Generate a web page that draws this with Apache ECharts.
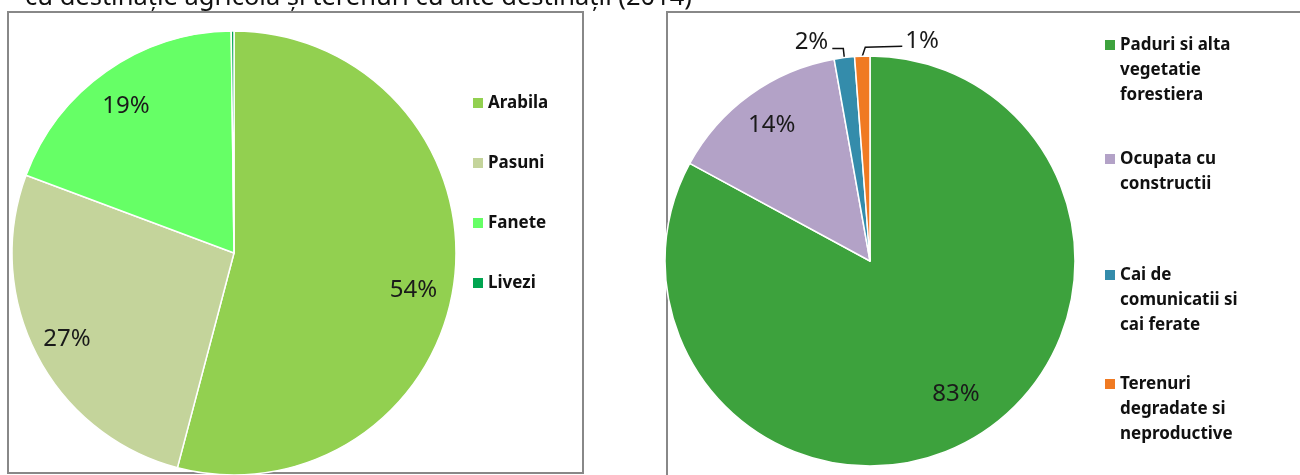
<!DOCTYPE html>
<html>
<head>
<meta charset="utf-8">
<script src="https://cdn.jsdelivr.net/npm/echarts@6/dist/echarts.min.js"></script>
<style>
  html, body { margin: 0; padding: 0; background: #fff; }
  #chart { width: 1300px; height: 475px; }
</style>
</head>
<body>
<div id="chart"></div>
<script>
// terenuri agricole (stanga)
var agriNames = ['Arabila', 'Pasuni', 'Fanete', 'Livezi'];
var agriValues = [54.1, 26.6, 19.1, 0.2];
var agriColors = ['#92D050', '#C4D49B', '#66FF66', '#00A550'];

// terenuri cu alte destinatii (dreapta)
var otherNames = ['Paduri si alta\nvegetatie\nforestiera', 'Ocupata cu\nconstructii', 'Cai de\ncomunicatii si\ncai ferate', 'Terenuri\ndegradate si\nneproductive'];
var otherValues = [82.9, 14.3, 1.6, 1.2];
var otherColors = ['#3DA23D', '#B3A2C7', '#348CAB', '#F07A22'];

var titleText = 'cu destinație agricolă și terenuri cu alte destinații (2014)';

var FONT = '"Noto Sans", "Open Sans", sans-serif';

function pctLabel(p) {
    return Math.round(p.value) + '%';
}

function buildData(names, values, colors) {
    return names.map(function (n, i) {
        return { name: n, value: values[i], itemStyle: { color: colors[i] } };
    });
}

var leftData = buildData(agriNames, agriValues, agriColors);
var rightData = buildData(otherNames, otherValues, otherColors);

// mutari mici ale etichetelor ca in Excel
var leftLabelOffsets = [[-7, 13], [0, 0], [0, 7], [0, 0]];
var rightLabelOffsets = [[0, -11], [0, 0], [0, 0], [0, 0]];

// datele pentru etichete (serie transparenta suprapusa)
var leftLabelData = agriNames.map(function (n, i) {
    return { name: n, value: agriValues[i], label: { show: i < 3, offset: leftLabelOffsets[i] } };
});
var rightLabelData = otherNames.map(function (n, i) {
    var outside = otherValues[i] < 5;
    return {
        name: n,
        value: otherValues[i],
        label: { position: outside ? 'outside' : 'inside', offset: rightLabelOffsets[i] },
        labelLine: { show: outside }
    };
});

// legenda din dreapta: cate o legenda pe element, patratul aliniat cu primul rand
var rightLegendTops = [45, 159, 275, 384];
var LH = 25;
var rightLegends = otherNames.map(function (n, i) {
    var lines = n.split('\n').length;
    var h = lines * LH;
    var a = (LH - 10) / 2;
    var icon = 'path://M0,0L0.01,0M0,' + a + 'L10,' + a + 'L10,' + (a + 10) + 'L0,' + (a + 10) + 'Z' +
        'M0,' + h + 'L0.01,' + h;
    return {
        data: [n],
        orient: 'vertical',
        left: 1100,
        top: rightLegendTops[i] - 5 - LH / 2,
        icon: icon,
        itemWidth: 10,
        itemHeight: h,
        selectedMode: false,
        itemStyle: { borderWidth: 0 },
        textStyle: {
            fontFamily: FONT, fontSize: 17, fontWeight: 'bold', color: '#111', lineHeight: LH
        }
    };
});

var chart = echarts.init(document.getElementById('chart'));

var option = {
    backgroundColor: '#fff',
    animation: false,
    graphic: [
        {
            type: 'text', left: 25, top: -15, z: 1,
            style: { text: titleText, fontFamily: FONT, fontSize: 25.5, fill: '#111' }
        },
        {
            type: 'rect', z: -10,
            shape: { x: 8, y: 12, width: 575, height: 461 },
            style: { fill: '#fff', stroke: '#888', lineWidth: 2 }
        },
        {
            type: 'rect', z: -10,
            shape: { x: 667, y: 12, width: 660, height: 470 },
            style: { fill: '#fff', stroke: '#888', lineWidth: 2 }
        }
    ],
    legend: [{
        data: agriNames,
        orient: 'vertical',
        left: 468,
        top: 88,
        icon: 'rect',
        itemWidth: 10,
        itemHeight: 10,
        itemGap: 40,
        selectedMode: false,
        itemStyle: { borderWidth: 0 },
        textStyle: { fontFamily: FONT, fontSize: 17, fontWeight: 'bold', color: '#111', lineHeight: 20 }
    }].concat(rightLegends),
    series: [
        {
            type: 'pie',
            center: [234, 253],
            radius: 222,
            startAngle: 90,
            clockwise: true,
            label: { show: false },
            labelLine: { show: false },
            itemStyle: { borderColor: '#fff', borderWidth: 1.5 },
            emphasis: { disabled: true },
            data: leftData
        },
        {
            type: 'pie',
            center: [234, 253],
            radius: [148, 222],
            startAngle: 90,
            clockwise: true,
            silent: true,
            avoidLabelOverlap: false,
            itemStyle: { color: 'transparent' },
            label: {
                position: 'inside',
                formatter: pctLabel,
                fontFamily: FONT, fontSize: 24, color: '#1a1a1a'
            },
            labelLine: { show: false },
            data: leftLabelData
        },
        {
            type: 'pie',
            center: [870, 261],
            radius: 205,
            startAngle: 90,
            clockwise: true,
            label: { show: false },
            labelLine: { show: false },
            itemStyle: { borderColor: '#fff', borderWidth: 1.5 },
            emphasis: { disabled: true },
            data: rightData
        },
        {
            type: 'pie',
            center: [870, 261],
            radius: [125, 205],
            startAngle: 90,
            clockwise: true,
            silent: true,
            avoidLabelOverlap: false,
            itemStyle: { color: 'transparent' },
            label: {
                formatter: pctLabel,
                fontFamily: FONT, fontSize: 24, color: '#1a1a1a'
            },
            labelLine: { length: 8, length2: 10, lineStyle: { color: '#111', width: 1.5 } },
            labelLayout: function (params) {
                var pts = params.labelLinePoints;
                if (!pts || params.dataIndex < 2) return;
                var p = pts[0];
                if (params.dataIndex === 2) {
                    return {
                        x: p[0] - 16, y: p[1] - 15, align: 'right', verticalAlign: 'middle',
                        labelLinePoints: [p, [p[0] - 1, p[1] - 9], [p[0] - 12, p[1] - 9]]
                    };
                }
                return {
                    x: p[0] + 43, y: p[1] - 15, align: 'left', verticalAlign: 'middle',
                    labelLinePoints: [p, [p[0] + 3, p[1] - 9], [p[0] + 40, p[1] - 10]]
                };
            },
            data: rightLabelData
        }
    ]
};

chart.setOption(option);
</script>
</body>
</html>
